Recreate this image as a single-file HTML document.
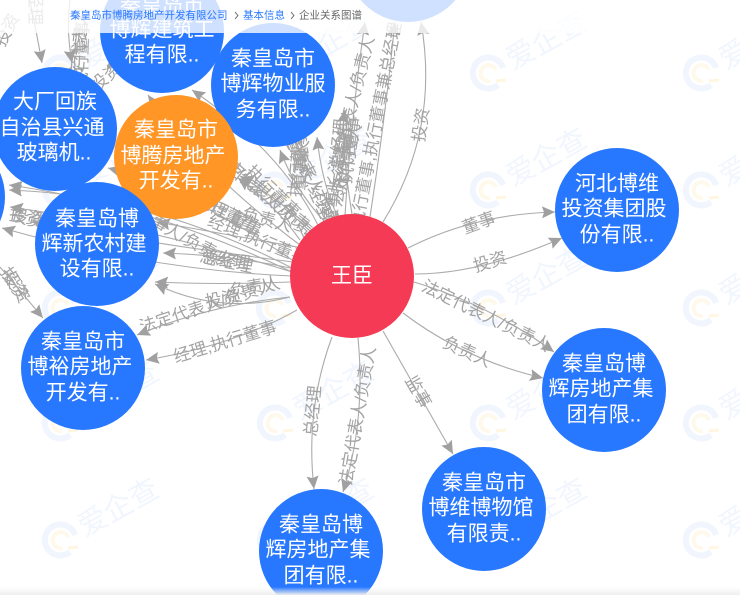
<!DOCTYPE html>
<html lang="zh"><head><meta charset="utf-8"><title>企业关系图谱</title>
<style>
html,body{margin:0;padding:0;background:#fff;width:740px;height:595px;overflow:hidden}
svg{position:absolute;left:0;top:0;display:block}
text{font-family:"Liberation Sans","Noto Sans CJK SC",sans-serif}
.wt{font-size:29px;fill:#f1f6fe}
.e{fill:none;stroke:#ababab;stroke-width:1.1}
.l{font-size:17px;fill:#a3a3a3;text-anchor:middle;dominant-baseline:central}
.n{font-size:21px;fill:#fff;text-anchor:middle;dominant-baseline:central}
.bc{font-size:10.5px;dominant-baseline:central}
</style></head><body>
<svg width="740" height="595" viewBox="0 0 740 595" xmlns="http://www.w3.org/2000/svg">
<defs>
<marker id="a" markerUnits="userSpaceOnUse" markerWidth="14" markerHeight="12" refX="13" refY="6" orient="auto"><path d="M0,0L13,6L0,12L2,6Z" fill="#a0a0a0"/></marker>
<g id="wm">
<path d="M15,-5A15.5,15.5 0 1 0 10,12" fill="none" stroke="#f0f5fe" stroke-width="6"/>
<path d="M8,-3A8,8 0 1 0 2,8" fill="none" stroke="#fff9ec" stroke-width="4"/>
<path d="M8,8L18,7" fill="none" stroke="#fff6e2" stroke-width="3"/>
<text class="wt" transform="translate(25,-3) rotate(-29)">爱企查</text>
</g>
<linearGradient id="b" x1="0" y1="0" x2="0" y2="1"><stop offset="0" stop-color="#f2f2f2" stop-opacity="0"/><stop offset="1" stop-color="#eee"/></linearGradient>
</defs>
<rect width="740" height="595" fill="#fff"/>
<use href="#wm" x="60" y="73"/><use href="#wm" x="274" y="73"/><use href="#wm" x="488" y="73"/><use href="#wm" x="701" y="73"/>
<use href="#wm" x="60" y="190"/><use href="#wm" x="274" y="190"/><use href="#wm" x="488" y="190"/><use href="#wm" x="701" y="190"/>
<use href="#wm" x="60" y="308"/><use href="#wm" x="274" y="308"/><use href="#wm" x="488" y="308"/><use href="#wm" x="701" y="308"/>
<use href="#wm" x="60" y="423"/><use href="#wm" x="275" y="423"/><use href="#wm" x="488" y="423"/><use href="#wm" x="701" y="423"/>
<use href="#wm" x="60" y="540"/><use href="#wm" x="275" y="540"/><use href="#wm" x="488" y="540"/><use href="#wm" x="701" y="540"/>

<!-- right side and bottom edges -->
<path class="e" marker-end="url(#a)" d="M408,248Q475,214 555,212"/>
<path class="e" marker-end="url(#a)" d="M415,274Q480,274 562,238"/>
<path class="e" marker-end="url(#a)" d="M414,282Q490,305 554,352"/>
<path class="e" marker-end="url(#a)" d="M403,313Q465,360 543,378"/>
<path class="e" marker-end="url(#a)" d="M383,331L453,454"/>
<path class="e" marker-end="url(#a)" d="M383,222Q440,130 421,22"/>
<path class="e" marker-end="url(#a)" d="M332,337Q305,410 314,489"/>
<path class="e" marker-end="url(#a)" d="M358,338Q366,420 343,492"/>
<path class="e" marker-end="url(#a)" d="M297,310Q235,345 146,360"/>
<path class="e" marker-end="url(#a)" d="M290,297Q210,305 137,335"/>
<!-- upper and left edges -->
<path class="e" marker-end="url(#a)" d="M290,268Q230,255 163,253"/>
<path class="e" marker-end="url(#a)" d="M290,282Q220,285 155,282"/>
<path class="e" marker-end="url(#a)" d="M290,297Q220,315 155,284"/>
<path class="e" marker-end="url(#a)" d="M297,247Q230,235 157,222"/>
<path class="e" marker-end="url(#a)" d="M300,240Q275,205 238,178"/>
<path class="e" marker-end="url(#a)" d="M312,230Q280,200 240,176"/>
<path class="e" marker-end="url(#a)" d="M325,222Q295,190 280,150"/>
<path class="e" marker-end="url(#a)" d="M338,217Q322,185 317,137"/>
<path class="e" marker-end="url(#a)" d="M345,215Q352,110 365,22"/>
<path class="e" marker-end="url(#a)" d="M352,214Q340,140 345,110"/>
<path class="e" marker-end="url(#a)" d="M370,217Q385,120 395,22"/>
<path class="e" marker-end="url(#a)" d="M318,225Q280,150 192,90"/>
<path class="e" marker-end="url(#a)" d="M300,245Q200,170 148,95"/>
<path class="e" marker-end="url(#a)" d="M295,262Q190,190 108,168"/>
<path class="e" marker-end="url(#a)" d="M292,268Q150,195 9,190"/>
<path class="e" marker-end="url(#a)" d="M292,272Q150,205 9,185"/>
<path class="e" marker-end="url(#a)" d="M292,272Q140,225 10,207"/>
<path class="e" marker-end="url(#a)" d="M292,276Q150,270 2,228"/>
<path class="e" marker-end="url(#a)" d="M293,262Q160,245 32,222"/>
<path class="e" marker-end="url(#a)" d="M30,0Q36,30 42,63"/>
<path class="e" marker-end="url(#a)" d="M70,0Q66,30 72,63"/>
<path class="e" marker-end="url(#a)" d="M128,45Q118,55 107,70"/>
<path class="e" marker-end="url(#a)" d="M0,267L43,318"/>

<!-- edge labels -->
<text class="l" transform="translate(479,223) rotate(-20)">董事</text>
<text class="l" transform="translate(490,262) rotate(-17)">投资</text>
<text class="l" transform="translate(486,316) rotate(26)">法定代表人/负责人</text>
<text class="l" transform="translate(467,352) rotate(24)">负责人</text>
<text class="l" transform="translate(418,392) rotate(60)">监事</text>
<text class="l" transform="translate(421,125) rotate(-82)">投资</text>
<text class="l" transform="translate(313,411) rotate(-85)">总经理</text>
<text class="l" transform="translate(358,416) rotate(-80)">法定代表人/负责人</text>
<text class="l" transform="translate(225,342) rotate(-17)">经理,执行董事</text>
<text class="l" transform="translate(207,306) rotate(-18)">法定代表人/负责人</text>
<text class="l" transform="translate(222,299) rotate(-12)">投资</text>
<text class="l" transform="translate(255,287) rotate(-10)">负责人</text>
<text class="l" transform="translate(225,260) rotate(8)">总经理</text>
<text class="l" transform="translate(228,262) rotate(12)">总经理</text>
<text class="l" transform="translate(183,237) rotate(28)">董事人/负责人</text>
<text class="l" transform="translate(258,240) rotate(22)">经理,执行董事</text>
<text class="l" transform="translate(267,220) rotate(15)">负责人</text>
<text class="l" transform="translate(226,213) rotate(25)">执行董事</text>
<text class="l" transform="translate(229,215) rotate(28)">经理,董事</text>
<text class="l" transform="translate(265,195) rotate(38)">法定代表人/负责人</text>
<text class="l" transform="translate(269,199) rotate(41)">法定代表人/负责人</text>
<text class="l" transform="translate(273,192) rotate(44)">执行董事</text>
<text class="l" transform="translate(312,180) rotate(62)">法定代表人/负责人</text>
<text class="l" transform="translate(308,176) rotate(66)">董事长,经理</text>
<text class="l" transform="translate(298,163) rotate(-85)">执行董事</text>
<text class="l" transform="translate(301,165) rotate(-85)">董事长</text>
<text class="l" transform="translate(336,172) rotate(-84)">董事长,总经理</text>
<text class="l" transform="translate(342,160) rotate(-80)">执行董事</text>
<text class="l" transform="translate(346,165) rotate(-76)">法定代表人</text>
<text class="l" transform="translate(352,105) rotate(-76)">法定代表人/负责人</text>
<text class="l" transform="translate(350,150) rotate(-82)">执行董事</text>
<text class="l" transform="translate(376,125) rotate(-79)">执行董事,执行董事兼总经理</text>
<text class="l" transform="translate(26,217) rotate(10)">投资</text>
<text class="l" transform="translate(28,219) rotate(16)">投资</text>
<text class="l" transform="translate(14,283) rotate(55)">投资</text>
<text class="l" transform="translate(16,287) rotate(58)">投资</text>
<text class="l" transform="translate(79,52) rotate(-85)">法定代表人</text>
<text class="l" transform="translate(82,55) rotate(-88)">执行董事</text>
<text class="l" transform="translate(35,8) rotate(90)">经理</text>
<text class="l" transform="translate(7,30) rotate(-62)">投资</text>
<text class="l" transform="translate(106,77) rotate(-40)">投资</text>

<!-- nodes -->
<circle cx="-57" cy="197" r="62" fill="#2878ff"/>
<circle cx="162" cy="31" r="62" fill="#2878ff"/>
<text class="n" x="162" y="5">秦皇岛市</text><text class="n" x="162" y="30">博辉建筑工</text><text class="n" x="162" y="55">程有限..</text>
<circle cx="273" cy="85" r="62" fill="#2878ff"/>
<text class="n" x="273" y="59">秦皇岛市</text><text class="n" x="273" y="84">博辉物业服</text><text class="n" x="273" y="110">务有限..</text>
<circle cx="55" cy="129" r="62" fill="#2878ff"/>
<text class="n" x="55" y="102">大厂回族</text><text class="n" x="52" y="128">自治县兴通</text><text class="n" x="54" y="153">玻璃机..</text>
<circle cx="176" cy="157" r="62" fill="#ff9626"/>
<text class="n" x="176" y="130">秦皇岛市</text><text class="n" x="173" y="156">博腾房地产</text><text class="n" x="176" y="181">开发有..</text>
<circle cx="97" cy="244" r="62" fill="#2878ff"/>
<text class="n" x="97" y="219">秦皇岛博</text><text class="n" x="94" y="244">辉新农村建</text><text class="n" x="97" y="269">设有限..</text>
<circle cx="83" cy="368" r="62" fill="#2878ff"/>
<text class="n" x="83" y="342">秦皇岛市</text><text class="n" x="80" y="367">博裕房地产</text><text class="n" x="83" y="393">开发有..</text>
<circle cx="321" cy="551" r="62" fill="#2878ff"/>
<text class="n" x="321" y="525">秦皇岛博</text><text class="n" x="318" y="550">辉房地产集</text><text class="n" x="321" y="576">团有限..</text>
<circle cx="484" cy="509" r="62" fill="#2878ff"/>
<text class="n" x="484" y="483">秦皇岛市</text><text class="n" x="481" y="508">博维博物馆</text><text class="n" x="484" y="534">有限责..</text>
<circle cx="604" cy="390" r="62" fill="#2878ff"/>
<text class="n" x="604" y="364">秦皇岛博</text><text class="n" x="601" y="389">辉房地产集</text><text class="n" x="604" y="415">团有限..</text>
<circle cx="617" cy="210" r="62" fill="#2878ff"/>
<text class="n" x="617" y="184">河北博维</text><text class="n" x="614" y="209">投资集团股</text><text class="n" x="617" y="235">份有限..</text>
<circle cx="408" cy="-40" r="62" fill="#2878ff"/>
<circle cx="352" cy="276" r="62" fill="#f43a54"/>
<text class="n" x="352" y="276">王臣</text>

<!-- header overlay -->
<rect x="0" y="0" width="740" height="33" fill="#fff" fill-opacity=".78"/>
<text class="bc" x="70" y="15.5" fill="#2878ff">秦皇岛市博腾房地产开发有限公司</text>
<path d="M235,12l3,3.5l-3,3.5M291,12l3,3.5l-3,3.5" fill="none" stroke="#777" stroke-width="1"/>
<text class="bc" x="243" y="15.5" fill="#2878ff">基本信息</text>
<text class="bc" x="299" y="15.5" fill="#666">企业关系图谱</text>
<rect x="0" y="587" width="740" height="8" fill="url(#b)"/>
</svg>
</body></html>
